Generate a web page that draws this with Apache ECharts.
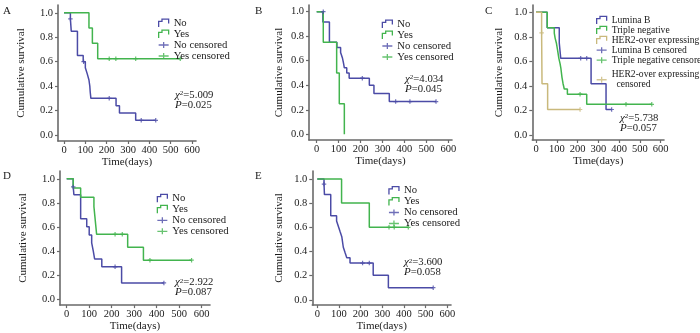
<!DOCTYPE html>
<html><head><meta charset="utf-8">
<script src="https://cdn.jsdelivr.net/npm/echarts@6/dist/echarts.min.js"></script>
<style>html,body{margin:0;padding:0;background:#fff}#c{width:700px;height:333px}</style>
</head><body><div id="c"></div>
<script>
// ---------- tick labels ----------
const X_TICKS = [0, 100, 200, 300, 400, 500, 600];
const Y_TICKS = [0, 0.2, 0.4, 0.6, 0.8, 1.0];
const X_TITLE = 'Time(days)';
const Y_TITLE = 'Cumulative survival';

// ---------- Panel A ----------
const A_NO_T = [0, 30, 34, 63, 90, 100, 109, 117, 121, 123, 126, 244, 260, 336, 430];
const A_NO_S = [1, 0.95, 0.85, 0.65, 0.60, 0.55, 0.50, 0.45, 0.40, 0.35, 0.30, 0.24, 0.18, 0.12, 0.12];
const A_NO_CT = [30, 92, 212, 362, 430];
const A_NO_CS = [0.95, 0.60, 0.30, 0.12, 0.12];
const A_YES_T = [0, 117, 133, 158, 545];
const A_YES_S = [1, 0.875, 0.75, 0.625, 0.625];
const A_YES_CT = [212, 243, 336, 545];
const A_YES_CS = [0.625, 0.625, 0.625, 0.625];

// ---------- Panel B ----------
const B_NO_T = [0, 28, 58, 92, 109, 117, 122, 126, 137, 148, 240, 261, 331, 544];
const B_NO_S = [1, 0.917, 0.75, 0.708, 0.667, 0.625, 0.583, 0.542, 0.50, 0.458, 0.40, 0.333, 0.267, 0.267];
const B_NO_CT = [30, 208, 360, 425, 544];
const B_NO_CS = [1.0, 0.458, 0.267, 0.267, 0.267];
const B_YES_T = [0, 30, 91, 103, 126];
const B_YES_S = [1, 0.75, 0.50, 0.25, 0];

// ---------- Panel C ----------
const C_LUM_T = [0, 54, 112, 119, 265, 337, 364];
const C_LUM_S = [1, 0.875, 0.75, 0.625, 0.417, 0.208, 0.208];
const C_LUM_CT = [215, 244, 364];
const C_LUM_CS = [0.625, 0.625, 0.208];
const C_TRI_T = [0, 54, 88, 92, 98, 104, 110, 116, 120, 125, 130, 136, 151, 244, 557];
const C_TRI_S = [1, 0.875, 0.83, 0.79, 0.75, 0.69, 0.625, 0.58, 0.54, 0.47, 0.42, 0.375, 0.333, 0.25, 0.25];
const C_TRI_CT = [212, 433, 557];
const C_TRI_CS = [0.333, 0.25, 0.25];
const C_HER_T = [0, 27, 29, 56, 212];
const C_HER_S = [1, 0.833, 0.417, 0.208, 0.208];
const C_HER_CT = [27, 212];
const C_HER_CS = [0.833, 0.208];

// ---------- Panel D ----------
const D_NO_T = [0, 29, 32, 62, 89, 100, 111, 118, 124, 156, 244, 432];
const D_NO_S = [1, 0.933, 0.867, 0.667, 0.60, 0.533, 0.467, 0.40, 0.333, 0.267, 0.133, 0.133];
const D_NO_CT = [29, 215, 432];
const D_NO_CS = [0.933, 0.267, 0.133];
const D_YES_T = [0, 29, 62, 121, 125, 129, 133, 271, 341, 555];
const D_YES_S = [1, 0.923, 0.846, 0.769, 0.692, 0.615, 0.538, 0.431, 0.323, 0.323];
const D_YES_CT = [215, 247, 370, 555];
const D_YES_CS = [0.538, 0.538, 0.323, 0.323];

// ---------- Panel E ----------
const E_NO_T = [0, 31, 33, 62, 89, 97, 105, 113, 120, 128, 136, 151, 258, 328, 535];
const E_NO_S = [1, 0.957, 0.87, 0.696, 0.652, 0.609, 0.565, 0.522, 0.435, 0.391, 0.348, 0.304, 0.203, 0.101, 0.101];
const E_NO_CT = [31, 209, 240, 535];
const E_NO_CS = [0.957, 0.304, 0.304, 0.101];
const E_YES_T = [0, 112, 240, 420];
const E_YES_S = [1, 0.8, 0.6, 0.6];
const E_YES_CT = [331, 355, 420];
const E_YES_CS = [0.6, 0.6, 0.6];

// ---------- stats ----------
const STATS = {A: ['5.009', '0.025'], B: ['4.034', '0.045'], C: ['5.738', '0.057'], D: ['2.922', '0.087'], E: ['3.600', '0.058']};

// ---------- styling / layout ----------
const FONT = '"Liberation Serif", "Times New Roman", serif';
const BLUE = '#4b4ba6', GREEN = '#42b44e', TAN = '#c9b97c';
const AXIS_COLOR = '#6a6a6a', TEXT = '#1a1a1a';

const LAYOUT = {
  A: {x0: 64, x600: 192, y0: 135, y1: 12.8, L: 58, R: 196, T: 5, B: 141, yGap: 31, xGap: 14, lab: [3, 6],
      leg: {left: 158, top: 17.5, row: 9.4, fs: 10.7}, stat: [175, 89.5]},
  B: {x0: 316.7, x600: 448.3, y0: 134.3, y1: 11.7, L: 309, R: 452, T: 5, B: 140, yGap: 24, xGap: 15, lab: [255, 6],
      leg: {left: 381.7, top: 18.5, row: 9.7, fs: 10.7}, stat: [405, 73.5]},
  C: {x0: 536, x600: 660.7, y0: 135, y1: 12.3, L: 532.3, R: 664, T: 5, B: 140, yGap: 28, xGap: 15, lab: [485, 6],
      leg: {left: 596, top: 15.2, row: 9.7, fs: 9.6}, stat: [620, 112.5]},
  D: {x0: 66.7, x600: 201.7, y0: 301.7, y1: 179, L: 60, R: 210, T: 171, B: 308, yGap: 31, xGap: 14, lab: [3, 171],
      leg: {left: 156.7, top: 192.8, row: 9.3, fs: 10.7}, stat: [175, 277]},
  E: {x0: 317.3, x600: 447.3, y0: 301.7, y1: 179, L: 312.3, R: 451, T: 171, B: 307, yGap: 28, xGap: 15, lab: [255, 171],
      leg: {left: 388.3, top: 185, row: 10.3, fs: 10.7}, stat: [404, 257]}
};

const PANELS = [
  {key: 'A', lines: [['No', A_NO_T, A_NO_S, BLUE], ['Yes', A_YES_T, A_YES_S, GREEN]],
   cens: [['No censored', A_NO_CT, A_NO_CS, BLUE], ['Yes censored', A_YES_CT, A_YES_CS, GREEN]]},
  {key: 'B', lines: [['No', B_NO_T, B_NO_S, BLUE], ['Yes', B_YES_T, B_YES_S, GREEN]],
   cens: [['No censored', B_NO_CT, B_NO_CS, BLUE], ['Yes censored', [], [], GREEN]]},
  {key: 'C', lines: [['Lumina B', C_LUM_T, C_LUM_S, BLUE], ['Triple negative', C_TRI_T, C_TRI_S, GREEN], ['HER2-over expressing', C_HER_T, C_HER_S, TAN]],
   cens: [['Lumina B censored', C_LUM_CT, C_LUM_CS, BLUE], ['Triple negative censored', C_TRI_CT, C_TRI_CS, GREEN], ['HER2-over expressing censored', C_HER_CT, C_HER_CS, TAN]]},
  {key: 'D', lines: [['No', D_NO_T, D_NO_S, BLUE], ['Yes', D_YES_T, D_YES_S, GREEN]],
   cens: [['No censored', D_NO_CT, D_NO_CS, BLUE], ['Yes censored', D_YES_CT, D_YES_CS, GREEN]]},
  {key: 'E', lines: [['No', E_NO_T, E_NO_S, BLUE], ['Yes', E_YES_T, E_YES_S, GREEN]],
   cens: [['No censored', E_NO_CT, E_NO_CS, BLUE], ['Yes censored', E_YES_CT, E_YES_CS, GREEN]]}
];

const STEP_ICON = 'path://M0,8L0,3L3,3L3,1L9,1L9,5';
const PLUS_ICON = 'path://M0,5L10,5M5,2L5,8';
const PLUS_MARK = 'path://M5,0L5,10M1,5L9,5';

const zip = (a, b) => a.map((v, i) => [v, b[i]]);

const grids = [], xAxes = [], yAxes = [], series = [], legends = [], graphics = [];

PANELS.forEach((p, gi) => {
  const g = LAYOUT[p.key];
  const pxDay = (g.x600 - g.x0) / 600;
  const pxUnit = g.y0 - g.y1;
  const xmin = (g.L - g.x0) / pxDay;
  const xmax = 600 + (g.R - g.x600) / pxDay;
  const ymin = -(g.B - g.y0) / pxUnit;
  const ymax = 1 + (g.y1 - g.T) / pxUnit;
  grids.push({left: g.L, top: g.T, width: g.R - g.L, height: g.B - g.T, containLabel: false});
  xAxes.push({
    type: 'value', gridIndex: gi, min: xmin, max: xmax,
    name: X_TITLE, nameLocation: 'middle', nameGap: g.xGap,
    nameTextStyle: {fontFamily: FONT, fontSize: 11, color: TEXT},
    axisLine: {onZero: false, lineStyle: {color: AXIS_COLOR, width: 1.6}},
    axisTick: {customValues: X_TICKS, length: 3, lineStyle: {color: AXIS_COLOR, width: 1.2}},
    axisLabel: {customValues: X_TICKS, margin: 4, fontFamily: FONT, fontSize: 10.5, color: TEXT},
    splitLine: {show: false}
  });
  yAxes.push({
    type: 'value', gridIndex: gi, min: ymin, max: ymax,
    name: Y_TITLE, nameLocation: 'middle', nameGap: g.yGap,
    nameTextStyle: {fontFamily: FONT, fontSize: 11, color: TEXT},
    axisLine: {onZero: false, lineStyle: {color: AXIS_COLOR, width: 1.6}},
    axisTick: {customValues: Y_TICKS, length: 3, lineStyle: {color: AXIS_COLOR, width: 1.2}},
    axisLabel: {customValues: Y_TICKS, margin: 5, fontFamily: FONT, fontSize: 10.5, color: TEXT,
                formatter: v => Number(v).toFixed(1)},
    splitLine: {show: false}
  });
  const legendData = [];
  p.lines.forEach(([name, t, s, c]) => {
    series.push({type: 'line', name, xAxisIndex: gi, yAxisIndex: gi, step: 'end', data: zip(t, s),
      showSymbol: false, symbol: 'none', lineStyle: {color: c, width: 1.5}, itemStyle: {color: c},
      emphasis: {disabled: true}, silent: true, z: 2});
    legendData.push({name, icon: STEP_ICON, itemStyle: {color: 'transparent', borderColor: c, borderWidth: 1.3}});
  });
  p.cens.forEach(([name, t, s, c]) => {
    series.push({type: 'scatter', name, xAxisIndex: gi, yAxisIndex: gi, data: zip(t, s),
      symbol: PLUS_MARK, symbolSize: 4.5, itemStyle: {color: 'transparent', borderColor: c, borderWidth: 1.2},
      emphasis: {disabled: true}, silent: true, z: 3});
    const item = {name, icon: PLUS_ICON, itemStyle: {color: 'transparent', borderColor: c, borderWidth: 1.3}};
    if (name === 'HER2-over expressing censored') item.textStyle = {padding: [g.leg.row, 0, 0, 0]};
    legendData.push(item);
  });
  legends.push({
    orient: 'vertical', left: g.leg.left, top: g.leg.top, itemWidth: 10, itemHeight: 8, itemGap: 0,
    padding: 0, selectedMode: false, data: legendData,
    formatter: n => n === 'HER2-over expressing censored' ? 'HER2-over expressing\n  censored' : n,
    textStyle: {fontFamily: FONT, fontSize: g.leg.fs, lineHeight: g.leg.row, color: TEXT, padding: 0}
  });
  // panel letter
  graphics.push({type: 'text', left: g.lab[0], top: g.lab[1],
    style: {text: p.key, font: '11px ' + FONT, fill: TEXT}});
  // statistics
  const st = STATS[p.key];
  graphics.push({type: 'text', left: g.stat[0], top: g.stat[1],
    style: {text: '{i|χ}{s|2}{n|=' + st[0] + '}\n{i|P}{n|=' + st[1] + '}',
      rich: {
        i: {fontFamily: FONT, fontStyle: 'italic', fontSize: 11, lineHeight: 10, fill: TEXT},
        s: {fontFamily: FONT, fontSize: 7, lineHeight: 10, verticalAlign: 'top', fill: TEXT},
        n: {fontFamily: FONT, fontSize: 10.7, lineHeight: 10, fill: TEXT}
      }}});
});

const chart = echarts.init(document.getElementById('c'), null, {renderer: 'canvas'});
chart.setOption({
  animation: false,
  backgroundColor: '#fff',
  grid: grids, xAxis: xAxes, yAxis: yAxes, series, legend: legends, graphic: graphics,
  tooltip: {show: false}
});
</script></body></html>
